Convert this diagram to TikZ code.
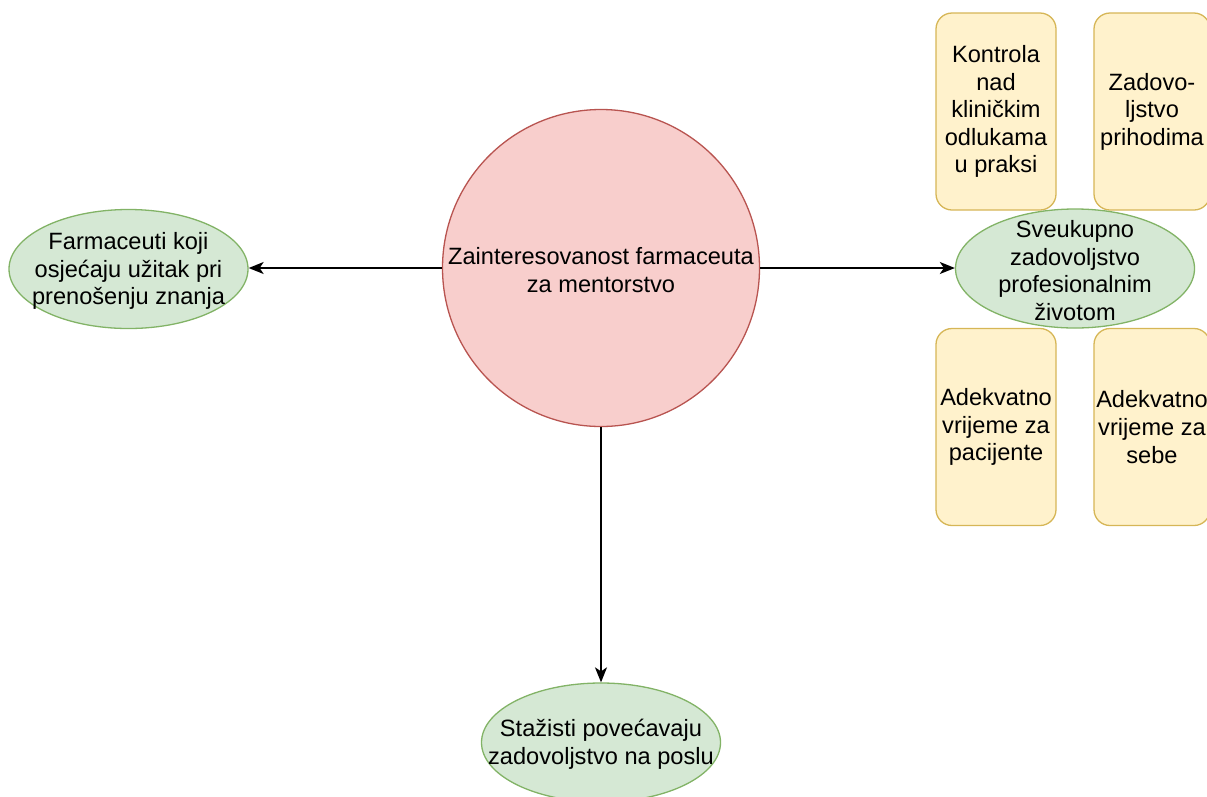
\documentclass[tikz,border=0pt]{standalone}
\usepackage{fontspec}
\setmainfont{Liberation Sans}
\usetikzlibrary{shapes.geometric,arrows.meta}

\definecolor{redfill}{HTML}{F8CECC}
\definecolor{reddraw}{HTML}{B85450}
\definecolor{greenfill}{HTML}{D5E8D4}
\definecolor{greendraw}{HTML}{82B366}
\definecolor{yellowfill}{HTML}{FFF2CC}
\definecolor{yellowdraw}{HTML}{D6B656}

\begin{document}
\begin{tikzpicture}[x=1pt,y=-1pt,
    font=\fontsize{23.6}{27.6}\selectfont,
    txt/.style={align=center,inner sep=0pt,yshift=-2pt},
    hub/.style={circle,draw=reddraw,fill=redfill,line width=1.3pt,
      minimum size=317pt,inner sep=0pt,label={[txt]center:#1}},
    goal/.style={ellipse,draw=greendraw,fill=greenfill,line width=1.3pt,
      minimum width=239pt,minimum height=119pt,inner sep=0pt,
      label={[txt]center:#1}},
    factor/.style={rectangle,rounded corners=16pt,draw=yellowdraw,fill=yellowfill,
      line width=1.3pt,minimum width=120pt,minimum height=197pt,inner sep=0pt,align=center},
    link/.style={line width=1.5pt,-{Stealth[length=15pt,width=12pt,inset=4pt]}}]
      \useasboundingbox (0,0) rectangle (1207,796) ;
      % centre
      \node[hub={Zainteresovanost farmaceuta\\za mentorstvo}] (ZF) at (601,268) {} ;
      % factors round the right goal
      \node[factor] (KO) at (996,111.5)
        {Kontrola\\nad\\kliničkim\\odlukama\\u praksi} ;
      \node[factor,minimum width=116pt] (ZP) at (1152,111.5)
        {Zadovo-\\ljstvo\\prihodima} ;
      \node[factor] (AP) at (996,427)
        {Adekvatno\\vrijeme za\\pacijente} ;
      \node[factor,minimum width=116pt] (AS) at (1152,427)
        {Adekvatno\\vrijeme za\\sebe} ;
      % outcomes
      \node[goal={Farmaceuti koji\\osjećaju užitak pri\\prenošenju znanja}]
        (FU) at (128.5,269) {} ;
      \node[goal={Sveukupno\\zadovoljstvo\\profesionalnim\\životom}]
        (SZ) at (1075,268.5) {} ;
      \node[goal={Stažisti povećavaju\\zadovoljstvo na poslu}]
        (SP) at (601,742.5) {} ;
      % arrows
      \draw[link] (ZF.west) -- (ZF.west -| FU.east) ;
      \draw[link] (ZF.east) -- (ZF.east -| SZ.west) ;
      \draw[link] (ZF.south) -- (SP.north) ;
\end{tikzpicture}
\end{document}
